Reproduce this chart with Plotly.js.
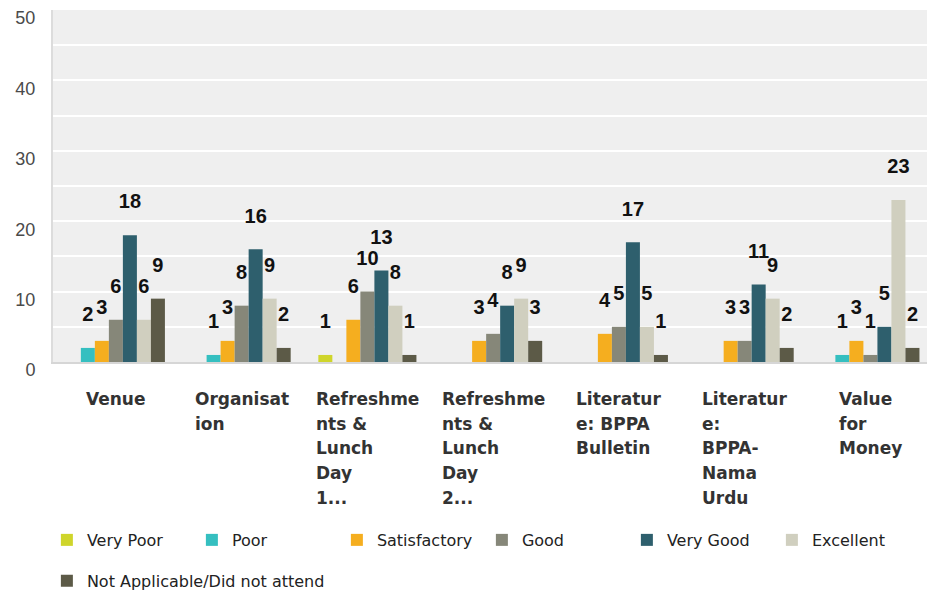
<!DOCTYPE html>
<html>
<head>
<meta charset="utf-8">
<script src="https://cdn.plot.ly/plotly-3.0.1.min.js"></script>
<style>html,body{margin:0;padding:0;background:#fff}#chart{width:927px;height:598px}</style>
</head>
<body>
<div id="chart"></div>
<script>
// ---- data ----
const categories = ['Venue', 'Organisation', 'Refreshments & Lunch Day 1...', 'Refreshments & Lunch Day 2...',
  'Literature: BPPA Bulletin', 'Literature: BPPA-Nama Urdu', 'Value for Money'];
const tickLabels = [
  ['Venue'],
  ['Organisat', 'ion'],
  ['Refreshme', 'nts &', 'Lunch', 'Day', '1...'],
  ['Refreshme', 'nts &', 'Lunch', 'Day', '2...'],
  ['Literatur', 'e: BPPA', 'Bulletin'],
  ['Literatur', 'e:', 'BPPA-', 'Nama', 'Urdu'],
  ['Value', 'for', 'Money']
];
const seriesNames = ['Very Poor', 'Poor', 'Satisfactory', 'Good', 'Very Good', 'Excellent', 'Not Applicable/Did not attend'];
const veryPoor      = [0, 0, 1, 0, 0, 0, 0];
const poor          = [2, 1, 0, 0, 0, 0, 1];
const satisfactory  = [3, 3, 6, 3, 4, 3, 3];
const good          = [6, 8, 10, 4, 5, 3, 1];
const veryGood      = [18, 16, 13, 8, 17, 11, 5];
const excellent     = [6, 9, 8, 9, 5, 9, 23];
const notApplicable = [9, 2, 1, 3, 1, 2, 2];
const seriesColors = ['#cfd52b', '#35bfc0', '#f5ae1f', '#868779', '#2e5f6d', '#d0cfbf', '#5c5a47'];

const seriesValues = [veryPoor, poor, satisfactory, good, veryGood, excellent, notApplicable];

const traces = seriesNames.map((name, i) => ({
  type: 'bar',
  name: name,
  x: categories,
  y: seriesValues[i],
  marker: {color: seriesColors[i]},
  text: seriesValues[i].map(v => v ? '<span style="font-size:20px">' + v + '</span><br>\u00a0' : ''),
  textposition: 'outside',
  constraintext: 'none',
  cliponaxis: false,
  textfont: {family: 'Liberation Sans, Arial, sans-serif', size: 16, color: '#111', weight: 'bold'},
  hovertemplate: '%{x}<br>' + name + ': %{y}<extra></extra>',
  legend: i === 6 ? 'legend2' : 'legend'
}));

const annotations = categories.map((c, i) => ({
  x: c, xref: 'x', y: 0, yref: 'paper', yanchor: 'top', xanchor: 'center',
  yshift: -25, showarrow: false, align: 'left',
  text: tickLabels[i].map(s => '<span style="font-size:17px">' + s + '</span>').join('<br>'),
  font: {family: 'DejaVu Sans, Verdana, sans-serif', size: 19, color: '#333', weight: 'bold'}
}));

const legendBase = {
  orientation: 'h', xanchor: 'left', x: -0.007, yanchor: 'middle',
  font: {family: 'DejaVu Sans, Verdana, sans-serif', size: 16, color: '#222'},
  bgcolor: 'rgba(0,0,0,0)', traceorder: 'normal'
};

const layout = {
  width: 927, height: 598,
  margin: {l: 53, r: 0, t: 10, b: 234},
  paper_bgcolor: '#ffffff', plot_bgcolor: '#efefef',
  barmode: 'group', bargap: 0.22, bargroupgap: 0,
  xaxis: {type: 'category', range: [-0.5, 6.45], showticklabels: false, showgrid: false,
          showline: true, linecolor: '#d6d6d6', linewidth: 2, ticks: '', fixedrange: true},
  yaxis: {range: [0, 50], tick0: 0, dtick: 10, showgrid: true, gridcolor: '#ffffff', gridwidth: 2,
          minor: {dtick: 5, showgrid: true, gridcolor: '#ffffff', gridwidth: 2},
          showline: true, linecolor: '#dcdcdc', linewidth: 2, zeroline: false, ticks: '',
          tickfont: {family: 'Liberation Sans, Arial, sans-serif', size: 18, color: '#4a4a4a'},
          ticklabelstandoff: 12, ticklabelshift: 8, fixedrange: true},
  legend: Object.assign({}, legendBase, {y: -0.5056, entrywidth: 100, entrywidthmode: 'pixels'}),
  legend2: Object.assign({}, legendBase, {y: -0.6215}),
  annotations: annotations,
  showlegend: true
};

Plotly.newPlot('chart', traces, layout, {displayModeBar: false, responsive: false});
</script>
</body>
</html>
